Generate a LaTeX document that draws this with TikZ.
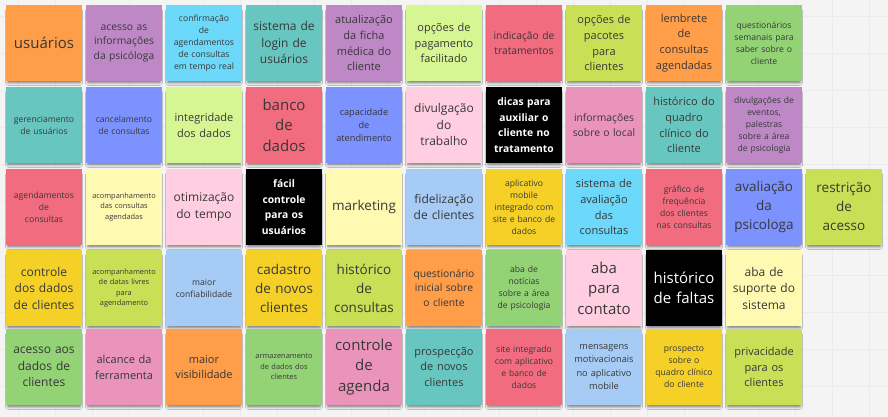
\documentclass[tikz,border=0pt]{standalone}
\usepackage{fontspec}
\setmainfont{Open Sans}
\usetikzlibrary{shadows.blur}

\definecolor{noteOrange}{HTML}{FF9D48}
\definecolor{noteViolet}{HTML}{BE88C7}
\definecolor{noteCyan}{HTML}{6CD8FA}
\definecolor{noteTeal}{HTML}{67C6C0}
\definecolor{noteLime}{HTML}{D5F692}
\definecolor{noteRed}{HTML}{F16C7F}
\definecolor{noteGreen}{HTML}{C9DF56}
\definecolor{noteDarkGreen}{HTML}{93D275}
\definecolor{noteBlue}{HTML}{7B92FF}
\definecolor{noteLightPink}{HTML}{FFCEE0}
\definecolor{notePink}{HTML}{EA94BB}
\definecolor{noteLightYellow}{HTML}{FFF9B1}
\definecolor{noteYellow}{HTML}{F5D128}
\definecolor{noteLightBlue}{HTML}{A6CCF5}
\definecolor{noteText}{HTML}{383838}
\definecolor{boardBg}{HTML}{F4F4F4}
\definecolor{boardGrid}{HTML}{EBEBEB}

\begin{document}
\begin{tikzpicture}[x=1pt, y=-1pt,
  note/.style={minimum width=76pt, minimum height=76pt, inner sep=0pt, text width=74pt,
    align=center, text=noteText,
    blur shadow={shadow xshift=0pt, shadow yshift=-4pt, shadow scale=0.95, shadow blur radius=2.5pt, shadow opacity=50}},
  darknote/.style={note, fill=black, text=white},
  txtHuge/.style={font=\fontsize{15}{20.5}\selectfont},
  txtLarge/.style={font=\fontsize{13.5}{19}\selectfont},
  txtMedium/.style={font=\fontsize{12}{16.5}\selectfont},
  txtNormal/.style={font=\fontsize{11}{15.8}\selectfont},
  txtSmall/.style={font=\fontsize{10.3}{14.5}\selectfont},
  txtBold/.style={font=\fontsize{10.3}{15.5}\selectfont\bfseries},
  txtTiny/.style={font=\fontsize{8.6}{12}\selectfont},
  txtMini/.style={font=\fontsize{9.2}{13.2}\selectfont},
  txtWee/.style={font=\fontsize{7.4}{10.5}\selectfont}]

\fill[boardBg] (0,0) rectangle (888,417);
\useasboundingbox (0,0) rectangle (888,417);
\foreach \gx in {18,55,...,888} \draw[boardGrid, line width=0.5pt] (\gx,0) -- (\gx,417);
\foreach \gy in {16,53,...,417} \draw[boardGrid, line width=0.5pt] (0,\gy) -- (888,\gy);

% row 1
\node[note, fill=noteOrange, txtHuge] (usuarios) at (44,43) {usuários};
\node[note, fill=noteViolet, txtSmall] (acessoInfo) at (124,43) {acesso as\\informações\\da psicóloga};
\node[note, fill=noteCyan, txtTiny] (confirmacao) at (204,43) {confirmação\\de\\agendamentos\\de consultas\\em tempo real};
\node[note, fill=noteTeal, txtMedium] (login) at (284,43) {sistema de\\login de\\usuários};
\node[note, fill=noteViolet, txtNormal] (fichaMedica) at (364,43) {atualização\\da ficha\\médica do\\cliente};
\node[note, fill=noteLime, txtNormal] (pagamento) at (444,43) {opções de\\pagamento\\facilitado};
\node[note, fill=noteRed, txtSmall] (tratamentos) at (524,43) {indicação de\\tratamentos};
\node[note, fill=noteGreen, txtNormal] (pacotes) at (604,43) {opções de\\pacotes\\para\\clientes};
\node[note, fill=noteOrange, txtNormal] (lembrete) at (684,43) {lembrete\\de\\consultas\\agendadas};
\node[note, fill=noteDarkGreen, txtTiny] (questionarios) at (764,43) {questionários\\semanais para\\saber sobre o\\cliente};

% row 2
\node[note, fill=noteTeal, txtTiny] (gerenciamento) at (44,125) {gerenciamento\\de usuários};
\node[note, fill=noteBlue, txtTiny] (cancelamento) at (124,125) {cancelamento\\de consultas};
\node[note, fill=noteLime, txtNormal] (integridade) at (204,125) {integridade\\dos dados};
\node[note, fill=noteRed, txtHuge] (banco) at (284,125) {banco\\de\\dados};
\node[note, fill=noteBlue, txtMini] (capacidade) at (364,125) {capacidade\\de\\atendimento};
\node[note, fill=noteLightPink, txtMedium] (divulgacao) at (444,125) {divulgação\\do\\trabalho};
\node[darknote, txtBold] (dicas) at (524,125) {dicas para\\auxiliar o\\cliente no\\tratamento};
\node[note, fill=notePink, txtSmall] (local) at (604,125) {informações\\sobre o local};
\node[note, fill=noteTeal, txtNormal] (quadroClinico) at (684,125) {histórico do\\quadro\\clínico do\\cliente};
\node[note, fill=noteViolet, txtTiny] (eventos) at (764,125) {divulgações de\\eventos,\\palestras\\sobre a área\\de psicologia};

% row 3
\node[note, fill=noteRed, txtTiny] (agendamentos) at (44,207) {agendamentos\\de\\consultas};
\node[note, fill=noteLightYellow, txtWee] (acompConsultas) at (124,207) {acompanhamento\\das consultas\\agendadas};
\node[note, fill=noteLightPink, txtMedium] (otimizacao) at (204,207) {otimização\\do tempo};
\node[darknote, txtBold] (controleFacil) at (284,207) {fácil\\controle\\para os\\usuários};
\node[note, fill=noteLightYellow, txtLarge] (marketing) at (364,207) {marketing};
\node[note, fill=noteLightBlue, txtMedium] (fidelizacao) at (444,207) {fidelização\\de clientes};
\node[note, fill=noteYellow, txtTiny] (aplicativo) at (524,207) {aplicativo\\mobile\\integrado com\\site e banco de\\dados};
\node[note, fill=noteCyan, txtNormal] (avaliacaoConsultas) at (604,207) {sistema de\\avaliação\\das\\consultas};
\node[note, fill=noteRed, txtTiny] (grafico) at (684,207) {gráfico de\\frequência\\dos clientes\\nas consultas};
\node[note, fill=noteBlue, txtLarge] (avaliacaoPsi) at (764,207) {avaliação\\da\\psicologa};
\node[note, fill=noteGreen, txtLarge] (restricao) at (844,207) {restrição\\de\\acesso};

% row 4
\node[note, fill=noteYellow, txtMedium] (controleDados) at (44,288) {controle\\dos dados\\de clientes};
\node[note, fill=noteGreen, txtWee] (datasLivres) at (124,288) {acompanhamento\\de datas livres\\para\\agendamento};
\node[note, fill=noteLightBlue, txtTiny] (confiabilidade) at (204,288) {maior\\confiabilidade};
\node[note, fill=noteYellow, txtLarge] (cadastro) at (284,288) {cadastro\\de novos\\clientes};
\node[note, fill=noteGreen, txtLarge] (historicoConsultas) at (364,288) {histórico\\de\\consultas};
\node[note, fill=noteOrange, txtSmall] (questInicial) at (444,288) {questionário\\inicial sobre\\o cliente};
\node[note, fill=noteDarkGreen, txtTiny] (noticias) at (524,288) {aba de\\notícias\\sobre a área\\de psicologia};
\node[note, fill=noteLightPink, txtHuge] (contato) at (604,288) {aba\\para\\contato};
\node[darknote, txtHuge] (faltas) at (684,288) {histórico\\de faltas};
\node[note, fill=noteLightYellow, txtMedium] (suporte) at (764,288) {aba de\\suporte do\\sistema};

% row 5
\node[note, fill=noteDarkGreen, txtMedium] (acessoDados) at (44,367) {acesso aos\\dados de\\clientes};
\node[note, fill=notePink, txtNormal] (alcance) at (124,367) {alcance da\\ferramenta};
\node[note, fill=noteOrange, txtNormal] (visibilidade) at (204,367) {maior\\visibilidade};
\node[note, fill=noteDarkGreen, txtWee] (armazenamento) at (284,367) {armazenamento\\de dados dos\\clientes};
\node[note, fill=notePink, txtHuge] (agenda) at (364,367) {controle\\de\\agenda};
\node[note, fill=noteTeal, txtNormal] (prospeccao) at (444,367) {prospecção\\de novos\\clientes};
\node[note, fill=noteRed, txtTiny] (site) at (524,367) {site integrado\\com aplicativo\\e banco de\\dados};
\node[note, fill=noteLightBlue, txtMini] (mensagens) at (604,367) {mensagens\\motivacionais\\no aplicativo\\mobile};
\node[note, fill=noteYellow, txtTiny] (prospecto) at (684,367) {prospecto\\sobre o\\quadro clínico\\do cliente};
\node[note, fill=noteGreen, txtNormal] (privacidade) at (764,367) {privacidade\\para os\\clientes};

\end{tikzpicture}
\end{document}
